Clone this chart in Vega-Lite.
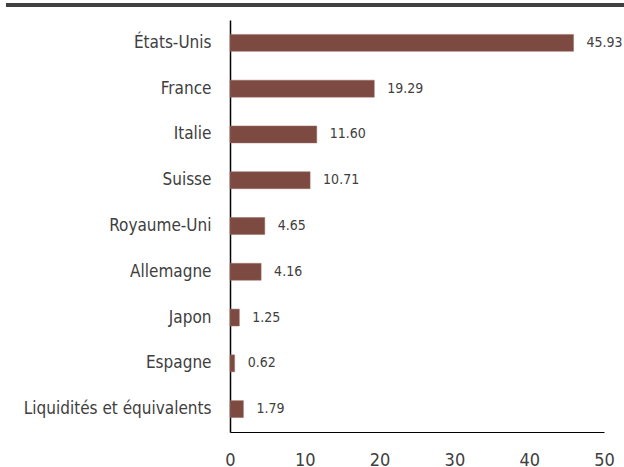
{
  "$schema": "https://vega.github.io/schema/vega-lite/v6.json",
  "padding": {"left": 5, "top": 3, "right": 0, "bottom": 0},
  "background": "white",
  "spacing": 13,
  "config": {"view": {"stroke": null}, "font": "DejaVu Sans Condensed"},
  "datasets": {
    "alloc": [
      {"pays": "États-Unis", "valeur": 45.93},
      {"pays": "France", "valeur": 19.29},
      {"pays": "Italie", "valeur": 11.60},
      {"pays": "Suisse", "valeur": 10.71},
      {"pays": "Royaume-Uni", "valeur": 4.65},
      {"pays": "Allemagne", "valeur": 4.16},
      {"pays": "Japon", "valeur": 1.25},
      {"pays": "Espagne", "valeur": 0.62},
      {"pays": "Liquidités et équivalents", "valeur": 1.79}
    ]
  },
  "vconcat": [
    {
      "width": 374,
      "height": 4,
      "data": {"values": [{"debut": -29.95, "fin": 52.8}]},
      "mark": {"type": "rect", "color": "#404040", "clip": false},
      "encoding": {
        "x": {"field": "debut", "type": "quantitative", "scale": {"domain": [0, 50]}, "axis": null},
        "x2": {"field": "fin"}
      }
    },
    {
      "width": 374,
      "height": 412,
      "data": {"name": "alloc"},
      "encoding": {
        "y": {
          "field": "pays",
          "type": "nominal",
          "sort": null,
          "scale": {"paddingInner": 0.63, "paddingOuter": 0.315},
          "axis": {
            "title": null,
            "ticks": false,
            "domainColor": "#000000",
            "domainWidth": 1.5,
            "labelFont": "DejaVu Sans Condensed",
            "labelFontSize": 17,
            "labelColor": "#404040",
            "labelPadding": 19,
            "labelLimit": 220,
            "minExtent": 220,
            "maxExtent": 220
          }
        },
        "x": {
          "field": "valeur",
          "type": "quantitative",
          "scale": {"domain": [0, 50]},
          "axis": {
            "title": null,
            "ticks": false,
            "grid": false,
            "labelFlush": false,
            "values": [0, 10, 20, 30, 40, 50],
            "domainColor": "#000000",
            "domainWidth": 1,
            "labelFont": "DejaVu Sans Condensed",
            "labelFontSize": 18,
            "labelColor": "#404040",
            "labelPadding": 19
          }
        }
      },
      "layer": [
        {"mark": {"type": "bar", "color": "#7D4A42", "stroke": "#9A6A62", "strokeWidth": 0.5}},
        {
          "mark": {"type": "text", "align": "left", "baseline": "middle", "dx": 13, "fontSize": 14, "color": "#404040", "font": "DejaVu Sans Condensed"},
          "encoding": {"text": {"field": "valeur", "type": "quantitative", "format": ".2f"}}
        }
      ]
    }
  ]
}
